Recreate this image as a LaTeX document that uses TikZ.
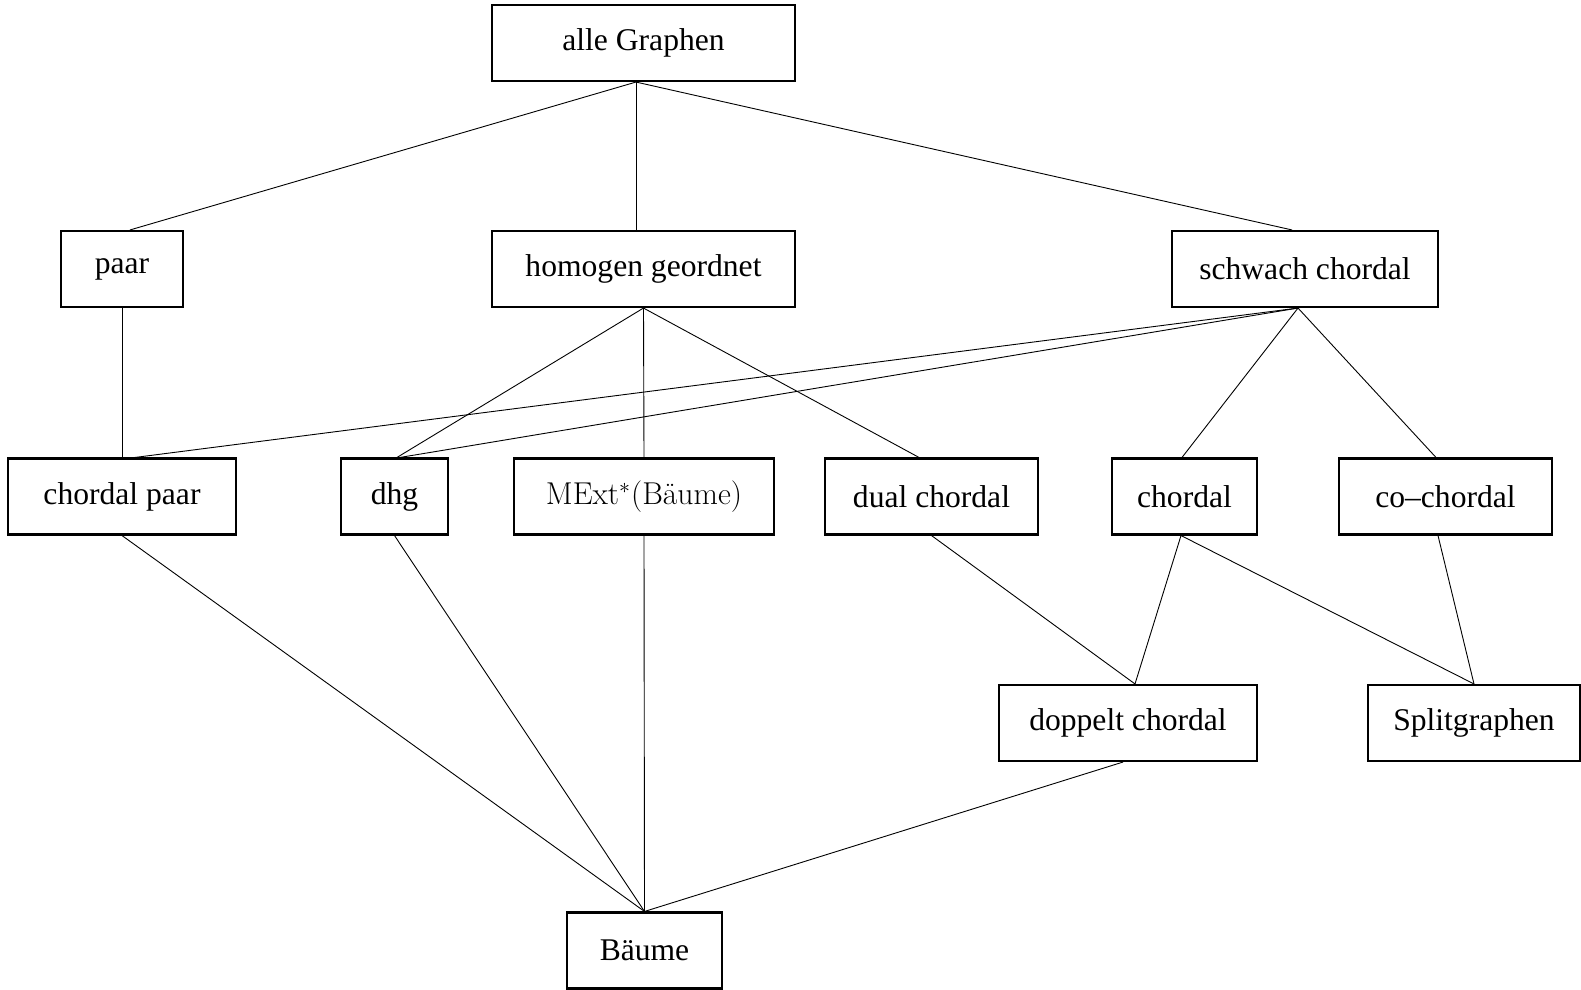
\documentclass[tikz,border=0pt]{standalone}
\usepackage[no-math]{fontspec}
\setmainfont{Liberation Serif}
\newfontfamily\lmfont{Latin Modern Roman}
\usetikzlibrary{calc}
\begin{document}
\begin{tikzpicture}[x=0.5pt,y=-0.5pt,
  box/.style={draw,line width=1.05pt,inner sep=0pt,minimum height=38pt,font=\fontsize{15.8}{19}\selectfont},
  conn/.style={line width=0.45pt}]
\useasboundingbox (0,0) rectangle (1581,990);
\node[box,minimum width=151.5pt] (alle) at (643.5,43) {alle Graphen};
\node[box,minimum width=61pt] (paar) at (122,269) {paar};
\node[box,minimum width=151.5pt] (hom) at (643.5,269) {homogen geordnet};
\node[box,minimum width=133pt] (sch) at (1305,269) {schwach chordal};
\node[box,minimum width=114pt] (cp) at (122,496.5) {chordal paar};
\node[box,minimum width=53.5pt] (dhg) at (394.5,496.5) {dhg};
\node[box,minimum width=130pt] (mext) at (644,496.5) {{\lmfont MExt$^*$(Bäume)}};
\node[box,minimum width=106.5pt] (dual) at (931.5,496.5) {dual chordal};
\node[box,minimum width=72.5pt] (ch) at (1184.5,496.5) {chordal};
\node[box,minimum width=106.5pt] (coch) at (1445.5,496.5) {co--chordal};
\node[box,minimum width=129pt] (dop) at (1128,723) {doppelt chordal};
\node[box,minimum width=106pt] (split) at (1474,723) {Splitgraphen};
\node[box,minimum width=77.5pt] (baum) at (644.5,950.5) {Bäume};
% connectors
\coordinate (alleS) at ($(alle.south)+(-7.5,0)$);
\draw[conn] (alleS) -- ($(paar.north)+(8,0)$);
\draw[conn] (alleS) -- ($(hom.north)+(-7.5,0)$);
\draw[conn] (alleS) -- ($(sch.north)+(-13,0)$);
\draw[conn] (paar.south) -- (cp.north);
\draw[conn] (hom.south) -- ($(dhg.north)+(2.5,0)$);
\draw[conn] (hom.south) -- (mext.north);
\draw[conn] (hom.south) -- ($(dual.north)+(-12.5,0)$);
\coordinate (schS) at ($(sch.south)+(-7,0)$);
\draw[conn] (schS) -- ($(cp.north)+(13,0)$);
\draw[conn] (schS) -- ($(dhg.north)+(5.5,0)$);
\draw[conn] (schS) -- ($(ch.north)+(-2.5,0)$);
\draw[conn] (schS) -- ($(coch.north)+(-9.5,0)$);
\draw[conn] (cp.south) -- (baum.north);
\draw[conn] (dhg.south) -- (baum.north);
\draw[conn] (mext.south) -- (baum.north);
\draw[conn] (dual.south) -- ($(dop.north)+(7,0)$);
\coordinate (chS) at ($(ch.south)+(-3.5,0)$);
\draw[conn] (chS) -- ($(dop.north)+(7,0)$);
\draw[conn] (chS) -- (split.north);
\draw[conn] ($(coch.south)+(-7.5,0)$) -- (split.north);
\draw[conn] ($(dop.south)+(-5,0)$) -- (baum.north);
\end{tikzpicture}
\end{document}
